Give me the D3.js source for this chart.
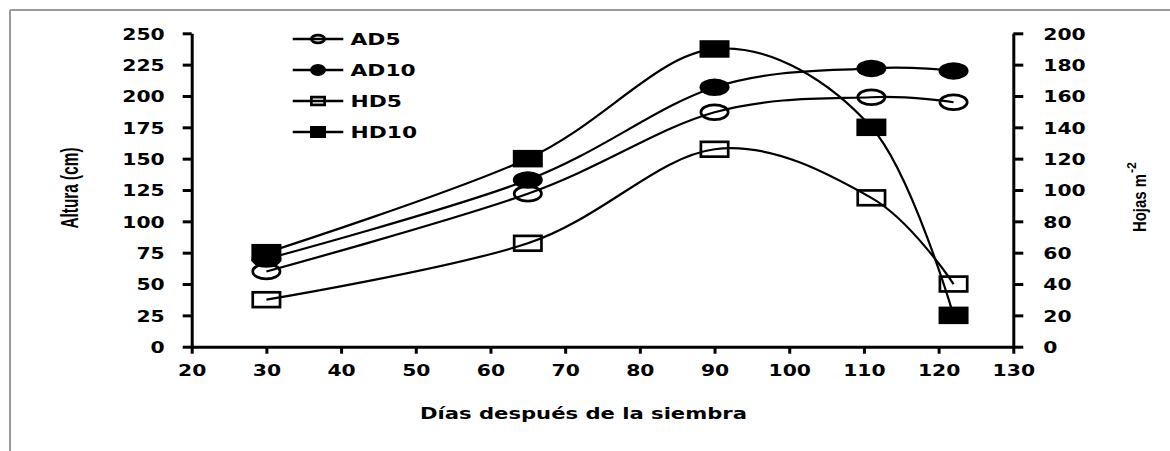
<!DOCTYPE html>
<html>
<head>
<meta charset="utf-8">
<script src="https://cdn.jsdelivr.net/npm/d3@7"></script>
<style>
  html, body { margin: 0; padding: 0; background: #fff; }
  svg { display: block; }
</style>
</head>
<body>
<svg id="chart" width="1170" height="451"></svg>
<script>
// ---- data ----
const days = [30, 65, 90, 111, 122];
const AD5  = [60, 122, 187, 199, 195];   // Altura (cm), left axis
const AD10 = [70, 133, 207, 222, 220];   // Altura (cm), left axis
const HD5  = [30, 66, 126, 95, 40];      // Hojas m-2, right axis
const HD10 = [60, 120, 190, 140, 20];    // Hojas m-2, right axis
const seriesNames = ["AD5", "AD10", "HD5", "HD10"];
const xTicks = [20, 30, 40, 50, 60, 70, 80, 90, 100, 110, 120, 130];
const leftTicks = [0, 25, 50, 75, 100, 125, 150, 175, 200, 225, 250];
const rightTicks = [0, 20, 40, 60, 80, 100, 120, 140, 160, 180, 200];
const xTitle = "Días después de la siembra";
const yLeftTitle = "Altura (cm)";
const yRightTitle = "Hojas m";
const yRightSup = "-2";

// ---- layout ----
const svg = d3.select("#chart");
const X0 = 191.7, X1 = 1013.3, Y0 = 346.7, Y1 = 33.3;
const x = d3.scaleLinear().domain([20, 130]).range([X0, X1]);
const yL = d3.scaleLinear().domain([0, 250]).range([Y0, Y1]);
const yR = d3.scaleLinear().domain([0, 200]).range([Y0, Y1]);

// frame
svg.append("line").attr("x1", 10).attr("y1", 10).attr("x2", 1170).attr("y2", 10)
  .attr("stroke", "#9a9a9a").attr("stroke-width", 2);
svg.append("line").attr("x1", 10).attr("y1", 10).attr("x2", 10).attr("y2", 451)
  .attr("stroke", "#9a9a9a").attr("stroke-width", 2);

const FONT = "'DejaVu Sans', Verdana, sans-serif";
function stretch(sel, k) {
  sel.each(function () {
    const w = this.getComputedTextLength();
    d3.select(this).attr("textLength", w * k).attr("lengthAdjust", "spacingAndGlyphs");
  });
}
function styleAxis(g) {
  g.select(".domain").attr("stroke", "#000").attr("stroke-width", 3);
  g.selectAll(".tick line").attr("stroke", "#000").attr("stroke-width", 3);
  g.selectAll("text").attr("fill", "#000").attr("font-family", FONT)
    .attr("font-weight", "bold").attr("font-size", 16);
}

// axes
const gx = svg.append("g").attr("transform", `translate(0,${Y0})`)
  .call(d3.axisBottom(x).tickValues(xTicks).tickSize(7).tickSizeOuter(0).tickPadding(0));
styleAxis(gx);
gx.selectAll("text").attr("y", 29.5).attr("dy", 0);
stretch(gx.selectAll("text"), 1.27);

const gl = svg.append("g").attr("transform", `translate(${X0},0)`)
  .call(d3.axisLeft(yL).tickValues(leftTicks).tickSize(9).tickSizeOuter(0).tickPadding(18));
styleAxis(gl);
gl.selectAll("text").attr("dy", "0.36em");
stretch(gl.selectAll("text"), 1.27);

const gr = svg.append("g").attr("transform", `translate(${X1},0)`)
  .call(d3.axisRight(yR).tickValues(rightTicks).tickSize(10).tickSizeOuter(0).tickPadding(20));
styleAxis(gr);
gr.selectAll("text").attr("dy", "0.36em");
stretch(gr.selectAll("text"), 1.27);

// axis titles
const xt = svg.append("text").attr("x", (X0 + X1) / 2 - 19).attr("y", 419)
  .attr("text-anchor", "middle").attr("font-family", FONT).attr("font-weight", "bold")
  .attr("font-size", 16).attr("fill", "#000").text(xTitle);
xt.attr("textLength", 327).attr("lengthAdjust", "spacingAndGlyphs");

svg.append("text").attr("transform", "translate(78,188) rotate(-90)")
  .attr("text-anchor", "middle").attr("font-family", "'Liberation Sans', Arial, sans-serif")
  .attr("font-weight", "bold").attr("font-size", 23).attr("fill", "#000")
  .attr("textLength", 81).attr("lengthAdjust", "spacingAndGlyphs").text(yLeftTitle);

const rt = svg.append("g").attr("transform", "translate(1146,232) rotate(-90)");
rt.append("text").attr("x", 0).attr("y", 0)
  .attr("font-family", "'Liberation Sans', Arial, sans-serif")
  .attr("font-weight", "bold").attr("font-size", 19).attr("fill", "#000")
  .attr("textLength", 58).attr("lengthAdjust", "spacingAndGlyphs").text(yRightTitle);
rt.append("text").attr("x", 59).attr("y", -10)
  .attr("font-family", "'Liberation Sans', Arial, sans-serif")
  .attr("font-weight", "bold").attr("font-size", 12).attr("fill", "#000")
  .attr("textLength", 11).attr("lengthAdjust", "spacingAndGlyphs").text(yRightSup);

// series
const series = [
  { name: "AD5",  vals: AD5,  y: yL, shape: "circle", filled: false },
  { name: "AD10", vals: AD10, y: yL, shape: "circle", filled: true },
  { name: "HD5",  vals: HD5,  y: yR, shape: "square", filled: false },
  { name: "HD10", vals: HD10, y: yR, shape: "square", filled: true },
];

function drawMarker(g, shape, filled, cx, cy, w, h) {
  const sw = filled ? 0 : 2.7;
  const ww = w - sw, hh = h - sw;
  if (shape === "circle") {
    g.append("ellipse").attr("cx", cx).attr("cy", cy).attr("rx", ww / 2).attr("ry", hh / 2)
      .attr("fill", filled ? "#000" : "none").attr("stroke", "#000").attr("stroke-width", sw);
  } else {
    g.append("rect").attr("x", cx - ww / 2).attr("y", cy - hh / 2).attr("width", ww).attr("height", hh)
      .attr("fill", filled ? "#000" : "none").attr("stroke", "#000").attr("stroke-width", sw);
  }
}

const line = d3.line().curve(d3.curveCatmullRom.alpha(0));
series.forEach(s => {
  const pts = days.map((d, i) => [x(d), s.y(s.vals[i])]);
  const g = svg.append("g");
  g.append("path").attr("d", line(pts)).attr("fill", "none")
    .attr("stroke", "#000").attr("stroke-width", 2.2);
  pts.forEach(p => drawMarker(g, s.shape, s.filled, p[0], p[1], 30, 17.5));
});

// legend
const legY = [39, 70, 101, 132];
series.forEach((s, i) => {
  const g = svg.append("g");
  g.append("line").attr("x1", 292.7).attr("x2", 343.3).attr("y1", legY[i]).attr("y2", legY[i])
    .attr("stroke", "#000").attr("stroke-width", 2.3);
  drawMarker(g, s.shape, s.filled, 318, legY[i], 16, s.filled ? 12 : 10.5);
  const t = g.append("text").attr("x", 350.5).attr("y", legY[i] + 5.5)
    .attr("font-family", FONT).attr("font-weight", "bold").attr("font-size", 15)
    .attr("fill", "#000").text(seriesNames[i]);
  stretch(t, 1.45);
});
</script>
</body>
</html>
